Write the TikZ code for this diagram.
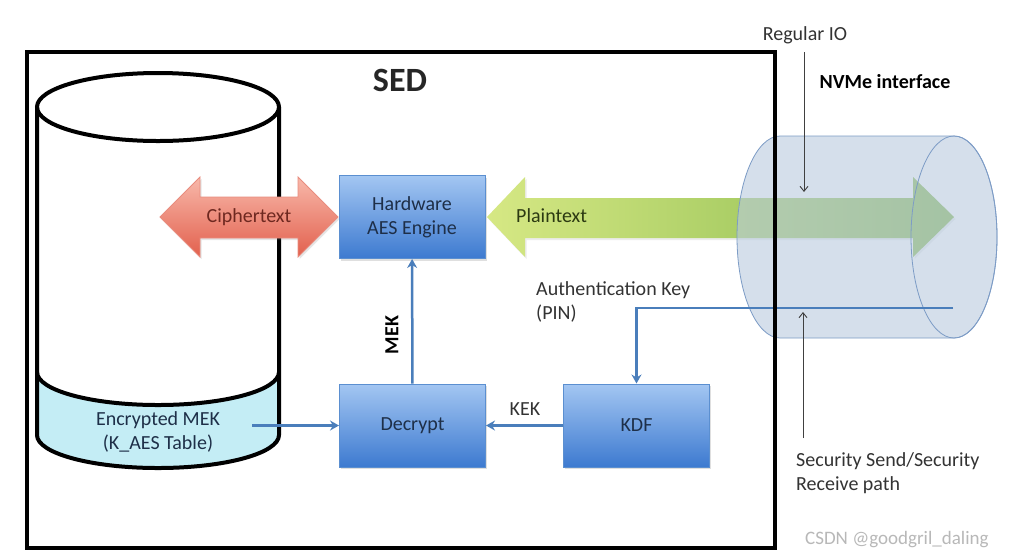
\documentclass[tikz,border=0pt]{standalone}
\usepackage{fontspec}
\setmainfont{Carlito}
\usetikzlibrary{arrows.meta,shadows}
\definecolor{boxtop}{HTML}{A3C6F2}
\definecolor{boxbot}{HTML}{3D7AD0}
\definecolor{boxline}{HTML}{5B8FD0}
\definecolor{boxtext}{HTML}{1E2F48}
\definecolor{connc}{HTML}{4A7EBB}
\definecolor{cyanfill}{HTML}{C4EDF5}
\definecolor{redtop}{HTML}{F8B8AA}
\definecolor{redmid}{HTML}{EC7B69}
\definecolor{redbot}{HTML}{E2604D}
\definecolor{redline}{HTML}{E88C7E}
\definecolor{redtext}{HTML}{6E2820}
\definecolor{greenleft}{HTML}{D6E884}
\definecolor{greenright}{HTML}{86B84C}
\definecolor{greentext}{HTML}{2C3A12}
\definecolor{pipefill}{HTML}{B9CBDF}
\definecolor{pipeline}{HTML}{7D9CC6}
\definecolor{labeltext}{HTML}{333333}
\definecolor{thinc}{HTML}{404040}
\definecolor{wmark}{HTML}{B8B8B8}
\begin{document}
\begin{tikzpicture}[x=1pt,y=-1pt,
  lbl/.style={font=\fontsize{20}{24}\selectfont, text=labeltext, inner sep=0pt, align=left},
  blk/.style={draw=boxline, line width=1pt, top color=boxtop, bottom color=boxbot,
    minimum width=146pt, minimum height=83pt, align=center, text=boxtext,
    font=\fontsize{20}{24}\selectfont,
    drop shadow={opacity=0.25, shadow xshift=1.5pt, shadow yshift=-2pt}},
  conn/.style={draw=connc, line width=2.5pt, -{Stealth[length=9pt,width=10pt,inset=3pt]}},
  thinarrow/.style={draw=thinc, line width=0.9pt, -{Straight Barb[length=5pt,width=8pt]}},
  heavy/.style={line width=4pt, draw=black},
  cyl/.style={x radius=121, y radius=33}
]
\useasboundingbox (0,0) rectangle (1011,558);
\fill[white] (0,0) rectangle (1011,558);

% ---- storage cylinder ----
\fill[white] (37,107) -- (37,435) arc[start angle=180,end angle=0,cyl] -- (279,107) -- cycle;
\fill[cyanfill] (37,372) arc[start angle=180,end angle=0,cyl] -- (279,435)
  arc[start angle=0,end angle=180,cyl] -- cycle;
\draw[heavy] (37,107) -- (37,435) arc[start angle=180,end angle=0,cyl] -- (279,107);
\draw[heavy] (37,372) arc[start angle=180,end angle=0,cyl];
\draw[heavy] (158,107) ellipse[x radius=121, y radius=34];
\node[lbl, align=center, text=boxtext] (emek) at (158,432) {Encrypted MEK\\(K\_AES Table)};

% ---- ciphertext double arrow ----
\path[draw=redline, line width=0.8pt, top color=redtop, middle color=redmid, bottom color=redbot,
  drop shadow={opacity=0.2, shadow xshift=1.5pt, shadow yshift=-2pt}]
  (160,217) -- (200,177) -- (200,197) -- (298,197) -- (298,177) -- (338,217)
  -- (298,257) -- (298,238) -- (200,238) -- (200,257) -- cycle;
\node[lbl, text=redtext] (ctext) at (249,217) {Ciphertext};

% ---- blocks ----
\node[blk] (aes) at (412,217) {Hardware\\AES Engine};
\node[blk] (dec) at (412.5,425.5) {Decrypt};
\node[blk] (kdf) at (636.5,425.5) {KDF};

% ---- plaintext double arrow ----
\path[left color=greenleft, right color=greenright,
  drop shadow={opacity=0.15, shadow xshift=1.5pt, shadow yshift=-2pt}]
  (487,217) -- (525,177) -- (525,198) -- (913,198) -- (913,177) -- (954,217)
  -- (913,257) -- (913,238) -- (525,238) -- (525,257) -- cycle;
\node[lbl, text=greentext, anchor=west] (ptext) at (516,216) {Plaintext};

% ---- NVMe pipe ----
\path[fill=pipefill, fill opacity=0.6, draw=pipeline, line width=0.8pt]
  (780,136) -- (954,136) arc[start angle=-90,end angle=90,x radius=43,y radius=101]
  -- (780,338) arc[start angle=90,end angle=270,x radius=43,y radius=101] -- cycle;
\draw[pipeline, line width=0.8pt] (954,237) ellipse[x radius=43, y radius=101];

% ---- connectors ----
\coordinate (emekout) at (252,425.5);
\draw[conn] (emekout) -- (dec.west);
\draw[conn] (dec) -- (aes);
\draw[conn] (kdf) -- (dec);
\coordinate (pinstart) at (953,308);
\draw[conn] (pinstart) -| (kdf.north);

% ---- labels ----
\node[font=\bfseries\fontsize{20}{24}\selectfont, text=black, rotate=90] (mek) at (392,335) {MEK};
\node[lbl] (kek) at (525,409) {KEK};
\node[lbl, anchor=west] (auth) at (536,302) {Authentication Key\\(PIN)};
\node[lbl] (regio) at (805,35) {Regular IO};
\node[lbl, font=\bfseries\fontsize{20}{24}\selectfont, text=black] (nvme) at (885,82) {NVMe interface};
\node[lbl, anchor=west] (secpath) at (796,473) {Security Send/Security\\Receive path};
\coordinate (regtop) at (804,52);
\coordinate (regend) at (804,192);
\draw[thinarrow] (regtop) -- (regend);
\coordinate (secbot) at (803,438);
\coordinate (secend) at (803,312);
\draw[thinarrow] (secbot) -- (secend);

% ---- SED enclosure ----
\node[heavy, minimum width=748pt, minimum height=496pt, inner sep=0pt] (sed) at (401,300) {};
\node[font=\bfseries\fontsize{34}{40}\selectfont, text=black!85] (sedlbl) at (400,80) {SED};

% ---- watermark ----
\node[font=\fontsize{19}{22}\selectfont, text=wmark, anchor=west, inner sep=0pt] (wm) at (805,540) {CSDN @goodgril\_daling};
\end{tikzpicture}
\end{document}
